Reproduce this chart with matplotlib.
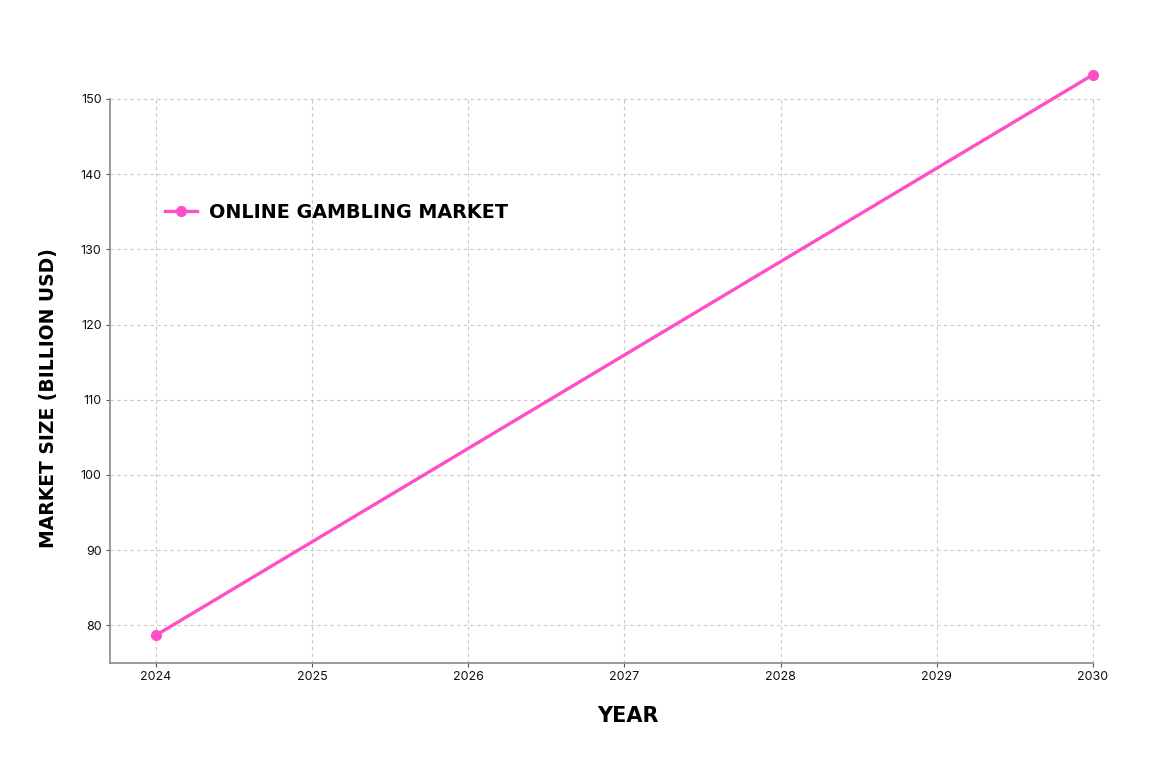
import matplotlib
matplotlib.use('Agg')
import matplotlib.pyplot as plt

# chart data
years = [2024, 2030]
market_size = [78.7, 153.2]
year_ticks = [2024, 2025, 2026, 2027, 2028, 2029, 2030]
size_ticks = [80, 90, 100, 110, 120, 130, 140, 150]
series_name = 'ONLINE GAMBLING MARKET'

pink = '#ff4fc6'
spine_gray = '#8a8a8a'

fig = plt.figure(figsize=(11.76, 7.67), dpi=100)
ax = fig.add_axes([0.0935, 0.1356, 0.8435, 0.7394])

ax.plot(years, market_size, color=pink, linewidth=2.4, marker='o',
        markersize=7, clip_on=False, zorder=3, label=series_name)

ax.set_xlim(2023.705, 2030.058)
ax.set_ylim(75, 150.4)
ax.set_xticks(year_ticks)
ax.set_xticklabels([str(y) for y in year_ticks])
ax.set_yticks(size_ticks)

ax.grid(True, linestyle=(0, (3, 3)), color='#c8c8c8', linewidth=0.8)
ax.set_axisbelow(True)

for side in ['top', 'right']:
    ax.spines[side].set_visible(False)
ax.spines['left'].set_color(spine_gray)
ax.spines['bottom'].set_color(spine_gray)
ax.spines['left'].set_linewidth(1.2)
ax.spines['bottom'].set_linewidth(1.2)
ax.spines['left'].set_bounds(75, 150)
ax.spines['bottom'].set_bounds(2023.705, 2030)

ax.tick_params(axis='both', length=3, color='#555555', width=0.8,
               labelsize=9, labelcolor='#111111', pad=3)
for lbl in ax.get_xticklabels() + ax.get_yticklabels():
    lbl.set_family('Inter')

ax.set_xlabel('YEAR', fontsize=15, fontweight='black', family='DejaVu Sans')
ax.set_ylabel('MARKET SIZE (BILLION USD)', fontsize=13.5, fontweight='black',
              family='DejaVu Sans')
ax.xaxis.set_label_coords(0.522, -0.076)
ax.yaxis.set_label_coords(-0.052, 0.467)

leg = ax.legend(loc='center left', bbox_to_anchor=(0.038, 0.794), frameon=False,
                prop={'family': 'DejaVu Sans', 'weight': 'bold', 'size': 13.8},
                handlelength=1.7, handletextpad=0.6)

fig.savefig('out.png', dpi=100, facecolor='white')
